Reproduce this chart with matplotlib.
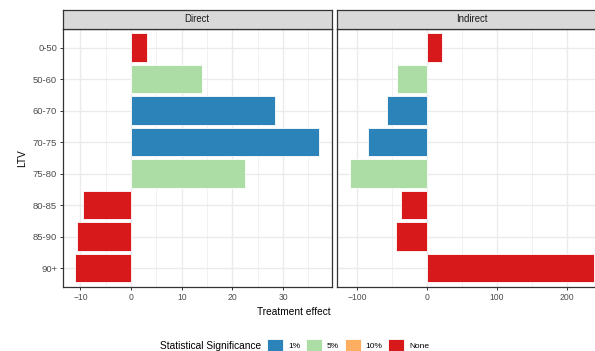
import numpy as np
import matplotlib
matplotlib.use('Agg')
import matplotlib.pyplot as plt
from matplotlib.patches import Patch
from matplotlib.ticker import MultipleLocator

plt.rcParams['font.family'] = ['Liberation Sans', 'DejaVu Sans']

# Data
ltv = ['0-50', '50-60', '60-70', '70-75', '75-80', '80-85', '85-90', '90+']
direct = [3.1, 14.0, 28.5, 37.2, 22.5, -9.5, -10.6, -11.1]
indirect = [21.5, -43, -58, -84, -111, -38, -45, 239]
sig_direct = ['None', '5%', '1%', '1%', '5%', 'None', 'None', 'None']
sig_indirect = ['None', '5%', '1%', '1%', '5%', 'None', 'None', 'None']
levels = ['1%', '5%', '10%', 'None']
colores = {'1%': '#2B83BA', '5%': '#ABDDA4', '10%': '#FDAE61', 'None': '#D7191C'}

W, H = 595, 351
fig = plt.figure(figsize=(W / 100, H / 100), dpi=100)

borde = '#333333'
top_px, bot_px, strip_px = 28.7, 287, 18.7


def panel(x0_px, titulo, valores, sig, paso, eje_y):
    ax = fig.add_axes([x0_px / W, 1 - bot_px / H, 269 / W, (bot_px - top_px) / H])
    y = np.arange(len(ltv))
    ax.barh(y, valores, height=0.9, color=[colores[s] for s in sig],
            edgecolor='white', linewidth=0.6, zorder=3)
    lo, hi = min(min(valores), 0), max(max(valores), 0)
    ext = 0.05 * (hi - lo)
    ax.set_xlim(lo - ext, hi + ext)
    ax.set_ylim(len(ltv) - 1 + 0.6, -0.6)
    ax.set_yticks(y)
    ax.set_yticklabels(ltv if eje_y else [])
    ax.xaxis.set_major_locator(MultipleLocator(paso))
    ax.xaxis.set_minor_locator(MultipleLocator(paso / 2))
    ax.grid(which='major', color='#EBEBEB', lw=1.0, zorder=0)
    ax.grid(which='minor', axis='x', color='#EBEBEB', lw=0.5, zorder=0)
    ax.set_axisbelow(True)
    for s in ax.spines.values():
        s.set_color(borde)
        s.set_linewidth(0.9)
    ax.tick_params(which='major', length=2.5, width=0.7, color=borde,
                   labelsize=6.2, labelcolor='#4D4D4D', pad=1.5)
    ax.tick_params(axis='y', labelsize=6.8)
    ax.tick_params(which='minor', length=0)
    if not eje_y:
        ax.tick_params(axis='y', length=0)

    # strip
    sax = fig.add_axes([x0_px / W, 1 - top_px / H, 269 / W, strip_px / H])
    sax.set_facecolor('#D9D9D9')
    sax.set_xticks([])
    sax.set_yticks([])
    for s in sax.spines.values():
        s.set_color(borde)
        s.set_linewidth(0.9)
    sax.text(0.5, 0.5, titulo, ha='center', va='center', fontsize=6.9,
             color='#1A1A1A', transform=sax.transAxes)
    return ax


panel(62.7, 'Direct', direct, sig_direct, 10, True)
panel(337.3, 'Indirect', indirect, sig_indirect, 100, False)

fig.text(22 / W, 1 - 158 / H, 'LTV', rotation=90, ha='center', va='center', fontsize=7.3)
fig.text(294 / W, 1 - 312 / H, 'Treatment effect', ha='center', va='center', fontsize=7.3)

fig.text(160 / W, 1 - 346 / H, 'Statistical Significance', ha='left', va='center', fontsize=7.3)
handles = [Patch(facecolor=colores[l], edgecolor='white', linewidth=0.6) for l in levels]
fig.legend(handles, levels, loc='center left', bbox_to_anchor=(267 / W, 1 - 345 / H),
           ncol=4, frameon=False, fontsize=6.0, handlelength=1.95, handleheight=1.95,
           handletextpad=0.6, columnspacing=0.65, borderpad=0, borderaxespad=0)

fig.savefig('out.png', dpi=100)
